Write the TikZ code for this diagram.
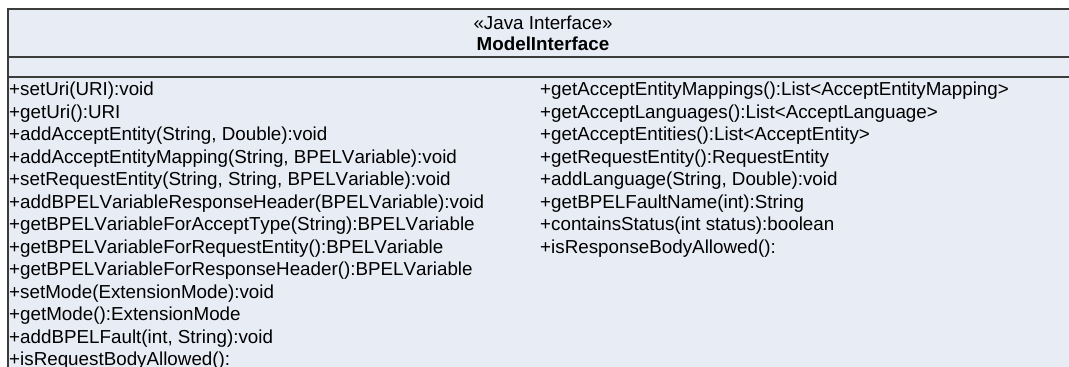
\documentclass[tikz,border=0pt]{standalone}
\usepackage{fontspec}
\setmainfont{Liberation Sans}[Kerning=Off]
\definecolor{boxfill}{HTML}{E8ECF4}
\definecolor{boxline}{HTML}{3C3C3C}
\begin{document}
\begin{tikzpicture}[x=1pt,y=-1pt,
  member/.style={anchor=base west,inner sep=0pt,font=\fontsize{18.8}{22.5}\selectfont},
  headtxt/.style={anchor=base,inner sep=0pt,font=\fontsize{18.8}{22.5}\selectfont},
  border/.style={draw=boxline,line width=1.6pt}]
\clip (0,0) rectangle (1069,367);
\fill[white] (0,0) rectangle (1069,367);
\fill[boxfill] (8,9) rectangle (1078,400);
\draw[border] (8,400) -- (8,9) -- (1078,9) -- (1078,400);
\draw[border] (8,57) -- (1078,57);
\draw[border] (8,77) -- (1078,77);
\node[headtxt] (stereo) at (543,29.5) {«Java Interface»};
\node[headtxt,font=\fontsize{18.8}{22.5}\selectfont\bfseries] (name) at (543,50) {ModelInterface};
\foreach \t [count=\i] in {
 {+setUri(URI):void},
 {+getUri():URI},
 {+addAcceptEntity(String, Double):void},
 {+addAcceptEntityMapping(String, BPELVariable):void},
 {+setRequestEntity(String, String, BPELVariable):void},
 {+addBPELVariableResponseHeader(BPELVariable):void},
 {+getBPELVariableForAcceptType(String):BPELVariable},
 {+getBPELVariableForRequestEntity():BPELVariable},
 {+getBPELVariableForResponseHeader():BPELVariable},
 {+setMode(ExtensionMode):void},
 {+getMode():ExtensionMode},
 {+addBPELFault(int, String):void},
 {+isRequestBodyAllowed():}}
 \node[member] (l\i) at (9,{95.5+22.5*(\i-1)}) {\t};
\foreach \t [count=\i] in {
 {+getAcceptEntityMappings():List<AcceptEntityMapping>},
 {+getAcceptLanguages():List<AcceptLanguage>},
 {+getAcceptEntities():List<AcceptEntity>},
 {+getRequestEntity():RequestEntity},
 {+addLanguage(String, Double):void},
 {+getBPELFaultName(int):String},
 {+containsStatus(int status):boolean},
 {+isResponseBodyAllowed():}}
 \node[member] (r\i) at (540,{95.5+22.5*(\i-1)}) {\t};
\end{tikzpicture}
\end{document}
